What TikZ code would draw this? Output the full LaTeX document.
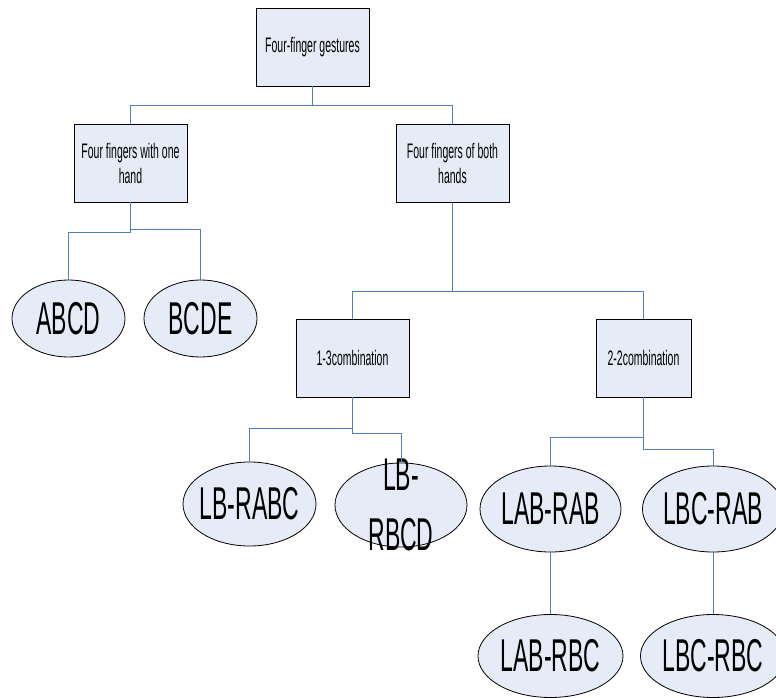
\documentclass[tikz,border=0pt]{standalone}
\usepackage{fontspec}
\usetikzlibrary{shapes.geometric}
\newfontfamily\narrowfont[FakeStretch=0.5]{Liberation Sans}
\definecolor{boxfill}{RGB}{230,236,247}
\definecolor{linkblue}{RGB}{79,129,189}
\tikzset{
  box/.style={draw=black, fill=boxfill, line width=0.9pt, inner sep=0pt,
    minimum width=113pt, minimum height=78pt, align=center,
    font=\narrowfont\fontsize{21}{25}\selectfont},
  oval/.style={ellipse, draw=black, fill=boxfill, line width=0.8pt, inner sep=0pt},
  ovaltext/.style={inner sep=0pt, align=center,
    font=\narrowfont\fontsize{46}{60}\selectfont},
  link/.style={draw=linkblue, line width=0.9pt}
}
\begin{document}
\begin{tikzpicture}[x=1pt,y=-1pt]
\useasboundingbox (0,0) rectangle (776,698);

\node[box] (root) at (312.5,47) {Four-finger gestures};
\node[box] (one) at (130.5,163) {Four fingers with one\\hand};
\node[box] (both) at (452.5,163.5) {Four fingers of both\\hands};
\node[box] (c13) at (352.5,358) {1-3combination};
\node[box, minimum width=95pt] (c22) at (643.5,358) {2-2combination};

\node[oval, minimum width=113pt, minimum height=77pt, label={[ovaltext]center:ABCD}] (abcd) at (68.5,318.5) {};
\node[oval, minimum width=113pt, minimum height=77pt, label={[ovaltext]center:BCDE}] (bcde) at (200.5,318.5) {};
\node[oval, minimum width=133pt, minimum height=84pt, label={[ovaltext]center:LB-RABC}] (lbrabc) at (249.5,504) {};
\node[oval, minimum width=132pt, minimum height=84pt, label={[ovaltext]center:{LB-\\RBCD}}] (lbrbcd) at (401,505) {};
\node[oval, minimum width=141pt, minimum height=86pt, label={[ovaltext]center:LAB-RAB}] (labrab) at (550.5,509) {};
\node[oval, minimum width=141pt, minimum height=86pt, label={[ovaltext]center:LBC-RAB}] (lbcrab) at (713,509) {};
\node[oval, minimum width=145pt, minimum height=83pt, label={[ovaltext]center:LAB-RBC}] (labrbc) at (550.5,656) {};
\node[oval, minimum width=145pt, minimum height=83pt, label={[ovaltext]center:LBC-RBC}] (lbcrbc) at (713,656) {};

% tree links
\draw[link] (root.south) -- ++(0,19) -| (one.north);
\draw[link] (root.south) ++(0,19) -| (both.north);
\draw[link] (one.south) -- ++(0,30) -| (abcd.north);
\draw[link] (one.south) ++(0,27) -| (bcde.north);
\draw[link] (both.south) -- ++(0,88) -| (c13.north);
\draw[link] (both.south) ++(0,88) -| (c22.north);
\draw[link] (c13.south) -- ++(0,31) -| (lbrabc.north);
\draw[link] (c13.south) ++(0,31) -- ++(0,5) -| (lbrbcd.north);
\draw[link] (c22.south) -- ++(0,40) -| (labrab.north);
\draw[link] (c22.south) ++(0,40) -- ++(0,12) -| (lbcrab.north);
\draw[link] (labrab.south) -- (labrbc.north);
\draw[link] (lbcrab.south) -- (lbcrbc.north);
\end{tikzpicture}
\end{document}
